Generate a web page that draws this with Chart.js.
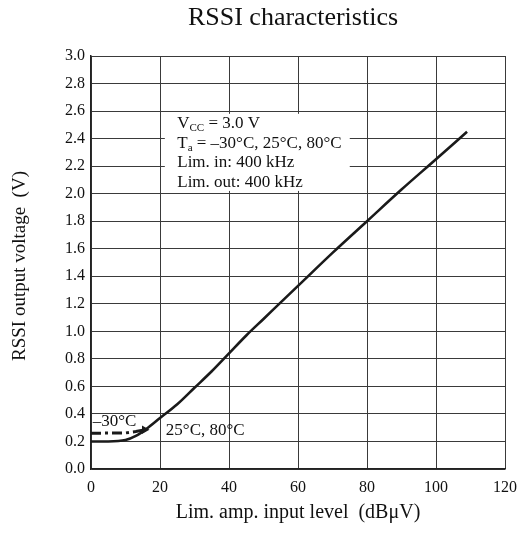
<!DOCTYPE html>
<html>
<head>
<meta charset="utf-8">
<script src="https://cdn.jsdelivr.net/npm/chart.js@4"></script>
<style>
  html, body { margin: 0; padding: 0; background: #fff; }
  #wrap { width: 521px; height: 536px; }
</style>
</head>
<body>
<div id="wrap"><canvas id="rssiChart" width="521" height="536"></canvas></div>
<script>
// Curva 25°C, 80°C (línea continua)
const inputLevel = [0, 5, 10, 13, 16, 20, 25, 30, 35, 40, 45, 50, 55, 60, 70, 80, 90, 100, 109];
const rssiWarm = [0.2, 0.2, 0.21, 0.24, 0.29, 0.37, 0.47, 0.59, 0.71, 0.84, 0.97, 1.09, 1.21, 1.33, 1.57, 1.8, 2.03, 2.25, 2.45];

// Curva -30°C (punto y raya, termina en flecha)
const inputLevelCold = [0, 10, 13, 15.5];
const rssiCold = [0.26, 0.262, 0.272, 0.285];

// Ejes
const xTicks = [0, 20, 40, 60, 80, 100, 120];
const yTicks = [0.0, 0.2, 0.4, 0.6, 0.8, 1.0, 1.2, 1.4, 1.6, 1.8, 2.0, 2.2, 2.4, 2.6, 2.8, 3.0];

// Textos
const chartTitle = "RSSI characteristics";
const xTitle = "Lim. amp. input level  (dB\u03BCV)";
const yTitle = "RSSI output voltage  (V)";
const coldLabel = "\u201330\u00B0C";
const warmLabel = "25\u00B0C, 80\u00B0C";

const serif = "'Liberation Serif', 'Times New Roman', serif";
const ink = "#111";

const toXY = (xs, ys) => xs.map((x, i) => ({ x: x, y: ys[i] }));

// Textos y recuadro de condiciones
const notesPlugin = {
  id: "notes",
  beforeDatasetsDraw(chart) {
    const { ctx, scales } = chart;
    const xs = scales.x, ys = scales.y;
    ctx.save();

    // recuadro blanco tapando la rejilla
    const bx0 = xs.getPixelForValue(21.4), bx1 = xs.getPixelForValue(75);
    const by0 = ys.getPixelForValue(2.58), by1 = ys.getPixelForValue(2.02);
    ctx.fillStyle = "#fff";
    ctx.fillRect(bx0, by0, bx1 - bx0, by1 - by0);

    ctx.fillStyle = ink;
    ctx.textBaseline = "alphabetic";
    ctx.textAlign = "left";
    const tx = xs.getPixelForValue(25);
    const base = ys.getPixelForValue(2.476);
    const lh = 19.5;
    const big = "17px " + serif, small = "11px " + serif;

    // V_CC = 3.0 V
    let x = tx;
    ctx.font = big; ctx.fillText("V", x, base); x += ctx.measureText("V").width;
    ctx.font = small; ctx.fillText("CC", x, base + 3); x += ctx.measureText("CC").width;
    ctx.font = big; ctx.fillText(" = 3.0 V", x, base);

    // T_a = -30°C, 25°C, 80°C
    x = tx;
    ctx.fillText("T", x, base + lh); x += ctx.measureText("T").width;
    ctx.font = small; ctx.fillText("a", x, base + lh + 3); x += ctx.measureText("a").width;
    ctx.font = big; ctx.fillText(" = \u201330\u00B0C, 25\u00B0C, 80\u00B0C", x, base + lh);

    ctx.fillText("Lim. in: 400 kHz", tx, base + 2 * lh);
    ctx.fillText("Lim. out: 400 kHz", tx, base + 3 * lh);

    // etiquetas de las curvas
    ctx.textBaseline = "middle";
    ctx.fillText(coldLabel, xs.getPixelForValue(0.5), ys.getPixelForValue(0.343));
    ctx.fillText(warmLabel, xs.getPixelForValue(21.7), ys.getPixelForValue(0.283));
    ctx.restore();
  },
  afterDraw(chart) {
    const { ctx, chartArea } = chart;
    const cx = (chartArea.left + chartArea.right) / 2;
    ctx.save();
    ctx.fillStyle = ink;
    ctx.textAlign = "center";
    ctx.textBaseline = "middle";
    ctx.font = "26px " + serif;
    ctx.fillText(chartTitle, cx - 5, 18);
    ctx.font = "20px " + serif;
    ctx.fillText(xTitle, cx, 513);
    ctx.translate(20, 266);
    ctx.rotate(-Math.PI / 2);
    ctx.font = "19px " + serif;
    ctx.fillText(yTitle, 0, 0);
    ctx.restore();
  },
};

const ctxRssi = document.getElementById("rssiChart").getContext("2d");

new Chart(ctxRssi, {
  type: "scatter",
  data: {
    datasets: [
      {
        label: "25°C, 80°C",
        data: toXY(inputLevel, rssiWarm),
        showLine: true,
        borderColor: "#1a1a1a",
        borderWidth: 2.6,
        pointRadius: 0,
        cubicInterpolationMode: "monotone",
      },
      {
        label: "-30°C",
        data: toXY(inputLevelCold, rssiCold),
        showLine: true,
        borderColor: "#1a1a1a",
        borderWidth: 3,
        borderDash: [10, 4, 3, 4],
        pointRadius: inputLevelCold.map((v, i) => (i === inputLevelCold.length - 1 ? 5 : 0)),
        pointStyle: "triangle",
        pointRotation: 90,
        pointBackgroundColor: "#1a1a1a",
        pointBorderColor: "#1a1a1a",
        pointBorderWidth: 0,
      },
    ],
  },
  options: {
    responsive: false,
    animation: false,
    events: [],
    layout: { padding: { left: 31, right: 16, top: 56, bottom: 37 } },
    plugins: {
      legend: { display: false },
      title: { display: false },
      tooltip: { enabled: false },
    },
    scales: {
      x: {
        type: "linear",
        min: xTicks[0],
        max: xTicks[xTicks.length - 1],
        afterFit: (s) => {
          s.height = 30;
          s.paddingLeft = 0;
          s.paddingRight = 0;
        },
        afterBuildTicks: (s) => { s.ticks = xTicks.map((v) => ({ value: v })); },
        ticks: {
          padding: 9,
          color: ink,
          font: { family: serif, size: 16 },
        },
        grid: { color: "#3a3a3a", lineWidth: 1, drawTicks: false },
        border: { color: "#222", width: 1.5 },
      },
      y: {
        type: "linear",
        min: yTicks[0],
        max: yTicks[yTicks.length - 1],
        afterFit: (s) => {
          s.width = 60;
          s.paddingTop = 0;
          s.paddingBottom = 0;
        },
        afterBuildTicks: (s) => { s.ticks = yTicks.map((v) => ({ value: v })); },
        ticks: {
          padding: 6,
          color: ink,
          font: { family: serif, size: 16 },
          callback: (v) => Number(v).toFixed(1),
        },
        grid: { color: "#3a3a3a", lineWidth: 1, drawTicks: false },
        border: { color: "#222", width: 1.5 },
      },
    },
  },
  plugins: [notesPlugin],
});
</script>
</body>
</html>
